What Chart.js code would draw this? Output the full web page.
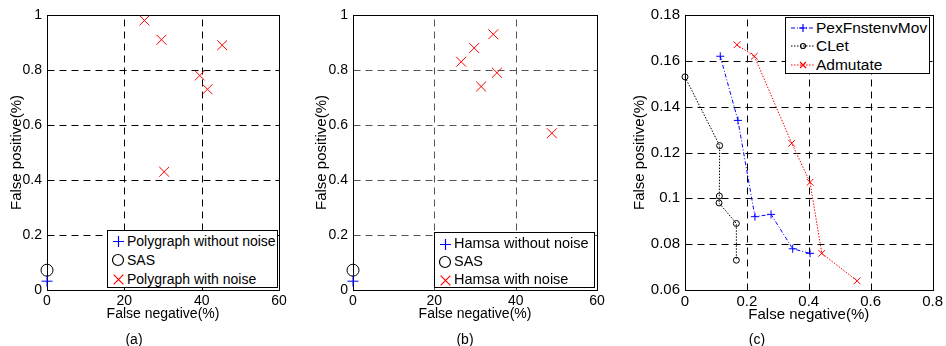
<!DOCTYPE html>
<html><head><meta charset="utf-8">
<script src="https://cdn.jsdelivr.net/npm/chart.js@4.4.1/dist/chart.umd.min.js"></script>
<style>
body{margin:0;background:#fff;width:946px;height:346px;overflow:hidden;position:relative;font-family:"Liberation Sans",Arial,sans-serif;}
canvas{position:absolute;top:0;}
.legend{position:absolute;border:1px solid #000;background:#fff;box-sizing:border-box;}
.row{position:absolute;white-space:nowrap;color:#000;}
.mk{position:absolute;}
.cap{position:absolute;font-size:14px;line-height:16px;top:331px;transform:translateX(-50%);color:#000}
</style>
</head><body>
<canvas id="ca" width="300" height="346" style="left:0px"></canvas>
<canvas id="cb" width="300" height="346" style="left:310px"></canvas>
<canvas id="cc" width="321" height="346" style="left:625px"></canvas>
<div id="lega" class="legend" style="left:107px;top:230px;width:171px;height:58px"></div>
<div id="legb" class="legend" style="left:434px;top:232px;width:161px;height:56px"></div>
<div id="legc" class="legend" style="left:785px;top:17px;width:145px;height:57px"></div>
<div class="cap" style="left:134px">(a)</div>
<div class="cap" style="left:465px">(b)</div>
<div class="cap" style="left:757px">(c)</div>
<script>
// ---- data (a) ----
const polyCleanFN = [0];
const polyCleanFP = [0.032];
const sasFN = [0];
const sasFP = [0.072];
const polyNoiseFN = [25.2, 29.6, 45.3, 39.5, 41.5, 30.3];
const polyNoiseFP = [0.98, 0.91, 0.89, 0.78, 0.73, 0.43];
// ---- data (b) ----
const hamsaCleanFN = [0];
const hamsaCleanFP = [0.032];
const hamsaNoiseFN = [26.6, 29.8, 34.5, 35.4, 31.5, 48.9];
const hamsaNoiseFP = [0.83, 0.88, 0.93, 0.79, 0.74, 0.57];
// ---- data (c) ----
const pexFN = [0.114, 0.171, 0.226, 0.278, 0.348, 0.404];
const pexFP = [0.162, 0.134, 0.092, 0.093, 0.078, 0.076];
const cletFN = [0, 0.112, 0.111, 0.110, 0.166, 0.166];
const cletFP = [0.153, 0.123, 0.101, 0.098, 0.089, 0.073];
const admFN = [0.168, 0.224, 0.345, 0.404, 0.442, 0.556];
const admFP = [0.167, 0.162, 0.124, 0.107, 0.076, 0.064];
// ---- ticks ----
const xTicksAB = [0, 20, 40, 60];
const xLabelsAB = ['0', '20', '40', '60'];
const yTicksAB = [0, 0.2, 0.4, 0.6, 0.8, 1];
const yLabelsAB = ['0', '0.2', '0.4', '0.6', '0.8', '1'];
const xTicksC = [0, 0.2, 0.4, 0.6, 0.8];
const xLabelsC = ['0', '0.2', '0.4', '0.6', '0.8'];
const yTicksC = [0.06, 0.08, 0.1, 0.12, 0.14, 0.16, 0.18];
const yLabelsC = ['0.06', '0.08', '0.1', '0.12', '0.14', '0.16', '0.18'];
// ---- legend labels ----
const legendA = ['Polygraph without noise', 'SAS', 'Polygraph with noise'];
const legendB = ['Hamsa without noise', 'SAS', 'Hamsa with noise'];
const legendC = ['PexFnstenvMov', 'CLet', 'Admutate'];

const pts = (xs, ys) => xs.map((x, i) => ({x, y: ys[i]}));

// dashed grid + axes box, positioned through the chart's own scales
const boxPlugin = {
  id: 'box',
  beforeDatasetsDraw(chart, args, opts) {
    const {ctx, chartArea: a, scales} = chart;
    const L = Math.round(a.left) + 0.5, R = Math.round(a.right) + 0.5;
    const T = Math.round(a.top) + 0.5, B = Math.round(a.bottom) + 0.5;
    ctx.save();
    ctx.strokeStyle = opts.gridColor || '#000';
    ctx.lineWidth = 1;
    ctx.setLineDash([7, 5]);
    ctx.beginPath();
    scales.x.ticks.forEach((t, i) => {
      if (i === 0 || i === scales.x.ticks.length - 1) return;
      const px = Math.round(scales.x.getPixelForValue(t.value)) + 0.5;
      ctx.moveTo(px, B); ctx.lineTo(px, T);
    });
    scales.y.ticks.forEach((t, i) => {
      if (i === 0 || i === scales.y.ticks.length - 1) return;
      const py = Math.round(scales.y.getPixelForValue(t.value)) + 0.5;
      ctx.moveTo(L, py); ctx.lineTo(R, py);
    });
    ctx.stroke();
    ctx.setLineDash([]);
    ctx.strokeStyle = '#000';
    ctx.strokeRect(L, T, R - L, B - T);
    ctx.restore();
  }
};

function makeChart(id, datasets, o) {
  const font = 'Liberation Sans, Arial, sans-serif';
  return new Chart(document.getElementById(id), {
    type: 'scatter',
    data: {datasets},
    plugins: [boxPlugin],
    options: {
      responsive: false,
      animation: false,
      devicePixelRatio: 1,
      layout: {padding: {left: o.padLeft, right: o.padRight, top: 15, bottom: o.padBottom}},
      plugins: {legend: {display: false}, tooltip: {enabled: false}, box: {gridColor: o.gridColor}},
      scales: {
        x: {
          type: 'linear', min: o.xTicks[0], max: o.xTicks[o.xTicks.length - 1],
          afterBuildTicks: s => { s.ticks = o.xTicks.map(v => ({value: v})); },
          afterFit: s => { s.height = o.xHeight; },
          ticks: {autoSkip: false, maxRotation: 0, padding: 3, color: '#000',
            font: {family: font, size: o.tickSize},
            callback: (v, i) => o.xLabels[i]},
          grid: {display: false, drawTicks: false},
          border: {display: false},
          title: {display: true, text: 'False negative(%)', color: '#000', padding: 0,
            font: {family: font, size: o.xTitleSize}}
        },
        y: {
          type: 'linear', min: o.yTicks[0], max: o.yTicks[o.yTicks.length - 1],
          afterBuildTicks: s => { s.ticks = o.yTicks.map(v => ({value: v})); },
          afterFit: s => { s.width = o.yWidth; },
          ticks: {autoSkip: false, padding: 5, color: '#000',
            font: {family: font, size: o.tickSize},
            callback: (v, i) => o.yLabels[i]},
          grid: {display: false, drawTicks: false},
          border: {display: false},
          title: {display: true, text: 'False positive(%)', color: '#000', padding: 0,
            font: {family: font, size: o.yTitleSize}}
        }
      }
    }
  });
}

function pointSet(data, style, color, r) {
  return {data, pointStyle: style, pointRadius: r, pointBorderColor: color,
    pointBackgroundColor: 'rgba(0,0,0,0)', pointBorderWidth: 1, showLine: false, clip: false};
}

// (a)
makeChart('ca', [
  pointSet(pts(polyCleanFN, polyCleanFP), 'cross', '#0000ff', 5.5),
  pointSet(pts(sasFN, sasFP), 'circle', '#000', 6),
  pointSet(pts(polyNoiseFN, polyNoiseFP), 'crossRot', '#ff0000', 7)
], {padLeft: 8, yWidth: 39, padRight: 21, padBottom: 23, xHeight: 33,
  xTicks: xTicksAB, xLabels: xLabelsAB, yTicks: yTicksAB, yLabels: yLabelsAB,
  gridColor: '#000', tickSize: 14, xTitleSize: 14, yTitleSize: 15});

// (b)
makeChart('cb', [
  pointSet(pts(hamsaCleanFN, hamsaCleanFP), 'cross', '#0000ff', 5.5),
  pointSet(pts(sasFN, sasFP), 'circle', '#000', 6),
  pointSet(pts(hamsaNoiseFN, hamsaNoiseFP), 'crossRot', '#ff0000', 7)
], {padLeft: 3, yWidth: 40, padRight: 13, padBottom: 23, xHeight: 33,
  xTicks: xTicksAB, xLabels: xLabelsAB, yTicks: yTicksAB, yLabels: yLabelsAB,
  gridColor: '#555', tickSize: 14, xTitleSize: 14, yTitleSize: 15});

// (c)
function lineSet(data, style, color, r, dash) {
  return {data, pointStyle: style, pointRadius: r, pointBorderColor: color,
    pointBackgroundColor: 'rgba(0,0,0,0)', pointBorderWidth: 1, showLine: true,
    borderColor: color, borderWidth: 1, borderDash: dash, clip: false, tension: 0};
}
makeChart('cc', [
  lineSet(pts(pexFN, pexFP), 'cross', '#0000ff', 4, [4, 2, 1, 2]),
  lineSet(pts(cletFN, cletFP), 'circle', '#000', 3, [1.5, 1.5]),
  lineSet(pts(admFN, admFP), 'crossRot', '#ff0000', 4.7, [1.5, 1.5])
], {padLeft: 6, yWidth: 54, padRight: 12, padBottom: 22, xHeight: 34,
  xTicks: xTicksC, xLabels: xLabelsC, yTicks: yTicksC, yLabels: yLabelsC,
  gridColor: '#000', tickSize: 15, xTitleSize: 15, yTitleSize: 15});

// ---- HTML legends ----
function markerSvg(type, color, size, line, dash) {
  const w = line ? 24 : size + 2, h = size + 2;
  const cx = w / 2, cy = h / 2, r = size / 2;
  let s = `<svg width="${w}" height="${h}" xmlns="http://www.w3.org/2000/svg">`;
  if (line) s += `<line x1="0" y1="${cy}" x2="${w}" y2="${cy}" stroke="${color}" stroke-width="1" stroke-dasharray="${dash}"/>`;
  if (type === 'cross') s += `<path d="M${cx - r} ${cy}H${cx + r}M${cx} ${cy - r}V${cy + r}" stroke="${color}" stroke-width="1.2"/>`;
  if (type === 'circle') s += `<circle cx="${cx}" cy="${cy}" r="${r - 0.5}" fill="none" stroke="${color}" stroke-width="1.2"/>`;
  if (type === 'x') s += `<path d="M${cx - r * 0.75} ${cy - r * 0.75}L${cx + r * 0.75} ${cy + r * 0.75}M${cx - r * 0.75} ${cy + r * 0.75}L${cx + r * 0.75} ${cy - r * 0.75}" stroke="${color}" stroke-width="1.2"/>`;
  return s + '</svg>';
}
function buildLegend(id, labels, specs, rowsY, markX, textX, fontSize) {
  const el = document.getElementById(id);
  labels.forEach((t, i) => {
    const sp = specs[i];
    const svg = markerSvg(sp.type, sp.color, sp.size, sp.line, sp.dash);
    const w = sp.line ? 24 : sp.size + 2, h = sp.size + 2;
    el.insertAdjacentHTML('beforeend',
      `<div class="mk" style="left:${markX - w / 2}px;top:${rowsY[i] - h / 2}px;line-height:0">${svg}</div>` +
      `<div class="row" style="left:${textX}px;top:${rowsY[i] - fontSize * 0.6}px;font-size:${fontSize}px;line-height:${fontSize * 1.2}px">${t}</div>`);
  });
}
buildLegend('lega', legendA, [
  {type: 'cross', color: '#0000ff', size: 11},
  {type: 'circle', color: '#000', size: 12},
  {type: 'x', color: '#ff0000', size: 13}
], [10, 29, 48], 10, 19, 14);
buildLegend('legb', legendB, [
  {type: 'cross', color: '#0000ff', size: 11},
  {type: 'circle', color: '#000', size: 12},
  {type: 'x', color: '#ff0000', size: 13}
], [11, 29, 47], 10, 19, 14.5);
buildLegend('legc', legendC, [
  {type: 'cross', color: '#0000ff', size: 8, line: true, dash: '4 2 1 2'},
  {type: 'circle', color: '#000', size: 6, line: true, dash: '1.5 1.5'},
  {type: 'x', color: '#ff0000', size: 8, line: true, dash: '1.5 1.5'}
], [10, 28, 47], 17, 30, 15.5);
</script>
</body></html>
